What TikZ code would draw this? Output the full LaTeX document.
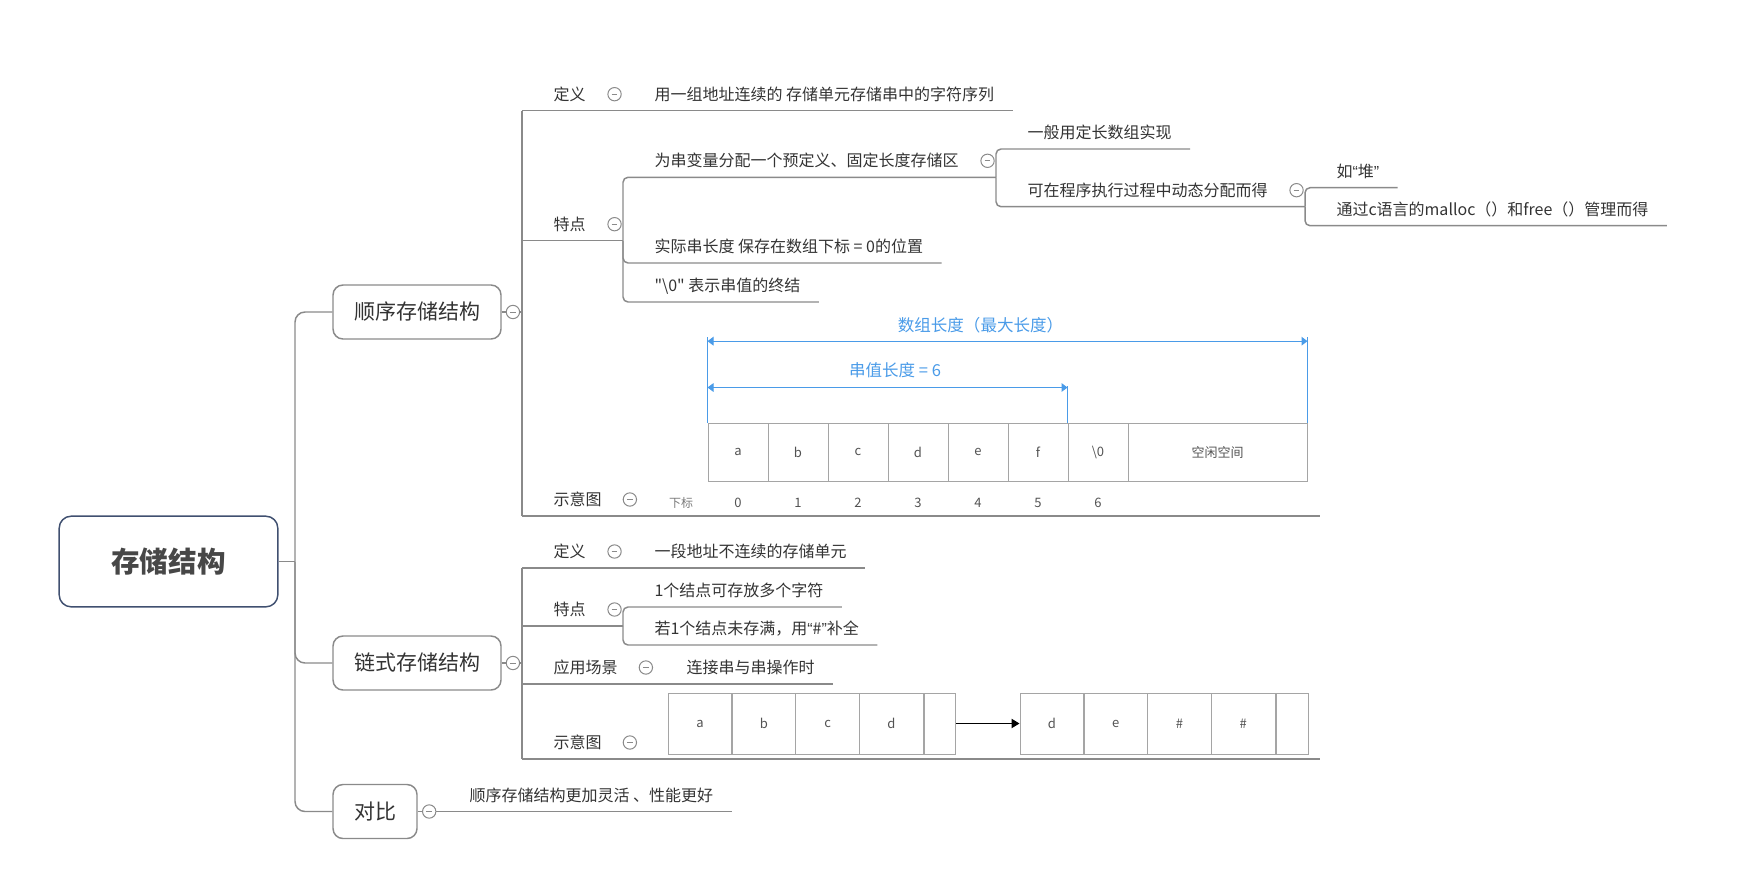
\documentclass[tikz,border=0pt]{standalone}
\usepackage{fontspec}
\setmainfont{Noto Sans CJK SC}
\newfontfamily\quotefont{Liberation Sans}
\usepackage{tikz}
\usepackage{xcolor}
\usetikzlibrary{arrows.meta}
\tikzset{every picture/.style={line width=0.75pt}}
\definecolor{txt}{RGB}{51,51,51}
\definecolor{lnk}{RGB}{138,138,138}
\definecolor{cellline}{RGB}{165,165,165}
\definecolor{dimblue}{RGB}{74,155,232}
\definecolor{rootline}{RGB}{64,80,112}
\newcommand{\qopen}{{\quotefont “}}
\newcommand{\qclose}{{\quotefont ”}}
\tikzset{
  root/.style={draw=rootline, line width=1.1pt, rounded corners=9pt, text=txt!90, font=\fontsize{21.4}{25}\selectfont\bfseries, minimum width=164pt, minimum height=68pt},
  topic/.style={draw=lnk, line width=1.1pt, rounded corners=7.5pt, text=txt, font=\fontsize{15.75}{18}\selectfont, minimum width=126pt, minimum height=40.5pt},
  leaf/.style={anchor=south west, inner xsep=13.5pt, inner ysep=7.5pt, text height=9pt, text depth=0pt, text=txt, font=\fontsize{12}{14}\selectfont},
  fold/.style={circle, draw=lnk, line width=0.75pt, fill=white, minimum size=10pt, inner sep=0pt,
    path picture={\draw[lnk, line width=0.6pt] ([xshift=-2.2pt]path picture bounding box.center) -- ([xshift=2.2pt]path picture bounding box.center);}},
  branch/.style={draw=lnk, line width=1.1pt},
  cell/.style={draw=cellline, line width=0.75pt, minimum width=45pt, minimum height=44pt, inner sep=0pt, text=txt!85, font=\fontsize{9.75}{12}\selectfont},
  lcell/.style={cell, minimum width=48pt, minimum height=45.75pt},
  idx/.style={text=txt!85, inner sep=0pt, font=\fontsize{9.75}{12}\selectfont},
  dimline/.style={draw=dimblue, line width=0.75pt},
  dimarrow/.style={dimline, {Triangle[length=4.5pt,width=6.5pt]}-{Triangle[length=4.5pt,width=6.5pt]}},
  dimlabel/.style={text=dimblue, inner sep=0pt, font=\fontsize{12.4}{15}\selectfont},
  linkarrow/.style={draw=black, line width=0.9pt, -{Triangle[length=6pt,width=7pt]}}
}

\begin{document}
\begin{tikzpicture}[x=0.75pt,y=0.75pt,yscale=-1,xscale=1]
\useasboundingbox (0,0) rectangle (1752,874);

%Shape: root and first level topics
\node[root] (root) at (168.5,561.5) {存储结构};
\node[topic] (sx) at (417,312) {顺序存储结构};
\node[topic] (lx) at (417,663) {链式存储结构};
\node[topic, minimum width=63pt] (db) at (375,811.5) {对比};

%Straight Lines: trunk
\coordinate (rt) at (295,561.5);
\draw[branch] (root.east) -- (rt);
\draw[branch, rounded corners=7.5pt] (rt) |- (sx.west);
\draw[branch, rounded corners=7.5pt] (rt) |- (lx.west);
\draw[branch, rounded corners=7.5pt] (rt) |- (db.west);

% Text Node: 顺序存储结构
\node[leaf] (sdy) at (535,110.7) {定义};
\node[leaf] (sdy1) at (636,110.7) {用一组地址连续的 存储单元存储串中的字符序列};
\node[leaf] (std) at (535,240.7) {特点};
\node[leaf] (st1) at (636,177.3) {为串变量分配一个预定义、固定长度存储区};
\node[leaf] (st11) at (1009,149) {一般用定长数组实现};
\node[leaf] (st12) at (1009,206.7) {可在程序执行过程中动态分配而得};
\node[leaf] (st121) at (1318,187.7) {如\qopen 堆\qclose};
\node[leaf] (st122) at (1318,225.7) {通过c语言的malloc（）和free（）管理而得};
\node[leaf] (st2) at (636,263) {实际串长度 保存在数组下标 = 0的位置};
\node[leaf] (st3) at (636,302) {\textquotedbl\textbackslash0\textquotedbl\ 表示串值的终结};
\node[leaf] (ssy) at (535,516) {示意图};

%Straight Lines: 顺序存储结构
\coordinate (sxv) at (522,312);
\coordinate (stv) at (623,240.7);
\coordinate (st1v) at (996,177.3);
\coordinate (st12v) at (1305,206.7);
\coordinate (sse) at (1320,516);
\draw[branch] (sx.east) -- (sxv);
\draw[branch] (sxv |- sdy.south) -- (sxv |- ssy.south);
\draw[branch] (sxv |- sdy.south) -- (sdy1.south east);
\draw[branch] (sxv |- std.south) -- (stv);
\draw[branch] (sxv |- ssy.south) -- (sse);
\draw[branch, rounded corners=3.75pt] (stv) |- (st1v);
\draw[branch, rounded corners=3.75pt] (stv) |- (st2.south east);
\draw[branch, rounded corners=3.75pt] (stv) |- (st3.south east);
\draw[branch, rounded corners=3.75pt] (st1v) |- (st11.south east);
\draw[branch, rounded corners=3.75pt] (st1v) |- (st12v);
\draw[branch, rounded corners=3.75pt] (st12v) |- (st121.south east);
\draw[branch, rounded corners=3.75pt] (st12v) |- (st122.south east);

%Shape: 顺序存储 table
\foreach \ch [count=\i from 0] in {a,b,c,d,e,f,\textbackslash0}
  \node[cell] (c\i) at (738+60*\i,452.35) {\ch};
\node[cell, minimum width=134.25pt] (free) at (1217.5,452.35) {空闲空间};
\node[idx, text=txt!65, font=\fontsize{9}{11}\selectfont] (xb) at (681,503) {下标};
\foreach \i in {0,...,6}
  \node[idx] (i\i) at (738+60*\i,503) {\i};

%Straight Lines: blue dimensions
\draw[dimline] (c0.north west) -- ([yshift=-64.5pt]c0.north west);
\draw[dimline] (free.north east) -- ([yshift=-64.5pt]free.north east);
\draw[dimline] (c6.north west) -- ([yshift=-27.75pt]c6.north west);
\draw[dimarrow] ([yshift=-61pt]c0.north west) -- ([yshift=-61pt]free.north east);
\draw[dimarrow] ([yshift=-26.25pt]c0.north west) -- ([yshift=-26.25pt]c6.north west);
\node[dimlabel] (arrlen) at (980.5,325) {数组长度（最大长度）};
\node[dimlabel] (strlen) at (895,370) {串值长度 = 6};

% Text Node: 链式存储结构
\node[leaf] (ldy) at (535,568) {定义};
\node[leaf] (ldy1) at (636,568) {一段地址不连续的存储单元};
\node[leaf] (ltd) at (535,626) {特点};
\node[leaf] (lt1) at (636,607) {1个结点可存放多个字符};
\node[leaf] (lt2) at (636,645) {若1个结点未存满，用\qopen\#\qclose 补全};
\node[leaf] (lyy) at (535,684) {应用场景};
\node[leaf] (lyy1) at (668,684) {连接串与串操作时};
\node[leaf] (lsy) at (535,759) {示意图};

%Straight Lines: 链式存储结构
\coordinate (lxv) at (522,663);
\coordinate (ltv) at (623,626);
\coordinate (lse) at (1320,759);
\draw[branch] (lx.east) -- (lxv);
\draw[branch] (lxv |- ldy.south) -- (lxv |- lsy.south);
\draw[branch] (lxv |- ldy.south) -- (ldy1.south east);
\draw[branch] (lxv |- ltd.south) -- (ltv);
\draw[branch] (lxv |- lyy.south) -- (lyy1.south east);
\draw[branch] (lxv |- lsy.south) -- (lse);
\draw[branch, rounded corners=3.75pt] (ltv) |- (lt1.south east);
\draw[branch, rounded corners=3.75pt] (ltv) |- (lt2.south east);

%Shape: linked blocks
\foreach \ch [count=\i from 0] in {a,b,c,d}
  \node[lcell] (la\i) at (700+63.8*\i,723.5) {\ch};
\node[lcell, minimum width=23.6pt, anchor=west] (lap) at (la3.east) {};
\foreach \ch [count=\i from 0] in {d,e,\#,\#}
  \node[lcell] (lb\i) at (1052+63.75*\i,723.5) {\ch};
\node[lcell, minimum width=24pt, anchor=west] (lbp) at (lb3.east) {};
\draw[linkarrow] (lap.east) -- (lb0.west);

% Text Node: 对比
\node[leaf] (db1) at (451,811.5) {顺序存储结构更加灵活 、性能更好};
\draw[branch] (db.east) -- (db1.south east);

%Shape: fold circles
\node[fold] (sxf) at ([xshift=8.4pt]sx.east) {};
\node[fold] (lxf) at ([xshift=8.4pt]lx.east) {};
\node[fold] (dbf) at ([xshift=8.6pt]db.east) {};
\node[fold] (sdyf) at ([xshift=7.9pt]sdy.east) {};
\node[fold] (stdf) at ([xshift=7.9pt]std.east) {};
\node[fold] (st1f) at ([xshift=7.9pt]st1.east) {};
\node[fold] (st12f) at ([xshift=7.9pt]st12.east) {};
\node[fold] (ssyf) at ([xshift=7.4pt]ssy.east) {};
\node[fold] (ldyf) at ([xshift=7.9pt]ldy.east) {};
\node[fold] (ltdf) at ([xshift=7.9pt]ltd.east) {};
\node[fold] (lyyf) at ([xshift=7.4pt]lyy.east) {};
\node[fold] (lsyf) at ([xshift=7.4pt]lsy.east) {};

\end{tikzpicture}
\end{document}
